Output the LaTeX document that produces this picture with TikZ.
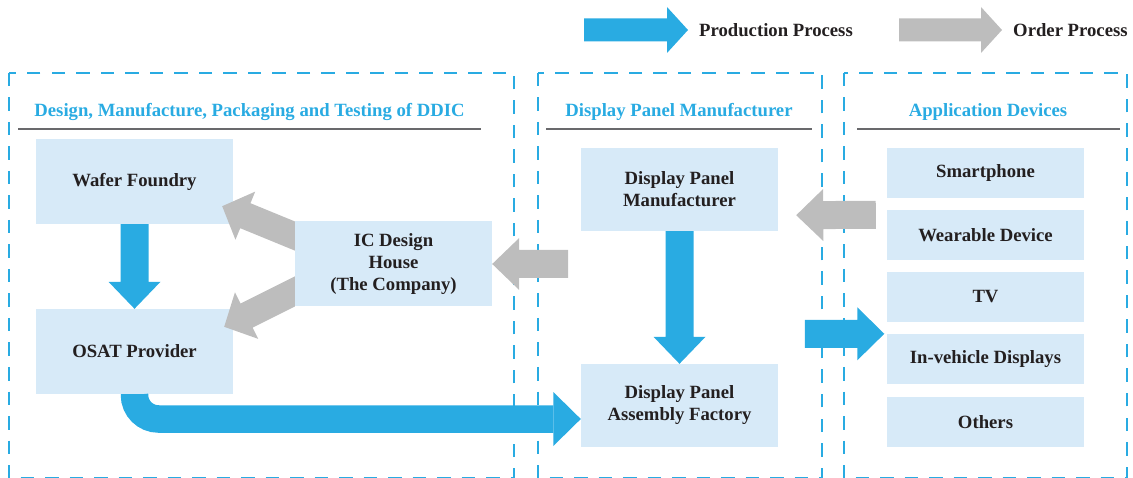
\documentclass[tikz,border=0pt]{standalone}
\usepackage{fontspec}
\setmainfont{Liberation Serif}
\usetikzlibrary{calc}

\definecolor{flowblue}{RGB}{41,171,226}
\definecolor{ordergray}{RGB}{189,189,189}
\definecolor{cellblue}{RGB}{215,234,248}
\definecolor{inktext}{RGB}{35,31,32}
\definecolor{rulegray}{RGB}{105,105,108}

% Block arrow: #1 fill, #2 tail, #3 tip, #4 half shaft width,
% #5 half head width, #6 head length
\newcommand\blockarrow[6]{%
  \coordinate (ba-h) at ($(#3)!#6!(#2)$);
  \fill[#1] ($(#2)!#4!90:(#3)$) -- ($(ba-h)!#4!90:(#3)$) --
            ($(ba-h)!#5!90:(#3)$) -- (#3) --
            ($(ba-h)!#5!-90:(#3)$) -- ($(ba-h)!#4!-90:(#3)$) --
            ($(#2)!#4!-90:(#3)$) -- cycle;}

\tikzset{
  txt/.style={font=\bfseries\fontsize{18.7}{22}\selectfont},
  cell/.style={txt, fill=cellblue, text=inktext, minimum width=197pt,
               inner sep=0pt, align=center},
  heading/.style={txt, text=flowblue, inner sep=0pt, anchor=base},
  legendtxt/.style={txt, text=inktext, inner sep=0pt, anchor=west},
  frame/.style={draw=flowblue, line width=2pt, dash pattern=on 13.5pt off 11pt},
  headrule/.style={draw=rulegray, line width=1.5pt},
}

\begin{document}
\begin{tikzpicture}[x=1pt,y=-1pt]
\useasboundingbox (0,0) rectangle (1133,478);
\coordinate (bottomleft) at (0,478);

% ---------- legend ----------
\coordinate (lp0) at (584,30);
\coordinate (lp1) at (688,30);
\blockarrow{flowblue}{lp0}{lp1}{11.5pt}{23pt}{21pt}
\node[legendtxt] (lptext) at (699,30) {Production Process};
\coordinate (lo0) at (899,30);
\coordinate (lo1) at (1002,30);
\blockarrow{ordergray}{lo0}{lo1}{11.5pt}{23pt}{21pt}
\node[legendtxt] (lotext) at (1013,30) {Order Process};

% ---------- dashed zones ----------
\draw[frame] (9,73) rectangle (514,478);
\draw[frame] (538,73) rectangle (822,478);
\draw[frame] (844,73) rectangle (1127,478);

\node[heading] (h1) at (249.5,116.5) {Design, Manufacture, Packaging and Testing of DDIC};
\draw[headrule] (18,129) -- (481,129);
\node[heading] (h2) at (679,116.5) {Display Panel Manufacturer};
\draw[headrule] (546,129) -- (812,129);
\node[heading] (h3) at (988,116.5) {Application Devices};
\draw[headrule] (857,129) -- (1120,129);

% ---------- boxes ----------
\node[cell, minimum height=85pt] (wafer) at (134.5,181.5) {Wafer Foundry};
\node[cell, minimum height=85pt] (osat) at (134.5,351.5) {OSAT Provider};
\node[cell, minimum height=85pt] (ic) at (393.5,264) {IC Design\\House\\(The Company)};
\node[cell, minimum height=83pt] (dpm) at (679.5,189.5) {Display Panel\\Manufacturer};
\node[cell, minimum height=83pt] (dpa) at (679.5,405.5) {Display Panel\\Assembly Factory};

\node[cell, minimum height=50pt] (smart) at (985.5,173) {Smartphone};
\node[cell, minimum height=50pt] (wear) at (985.5,235) {Wearable Device};
\node[cell, minimum height=50pt] (tv) at (985.5,297) {TV};
\node[cell, minimum height=50pt] (invh) at (985.5,359) {In-vehicle Displays};
\node[cell, minimum height=50pt] (others) at (985.5,422) {Others};

% ---------- production flow ----------
\blockarrow{flowblue}{wafer.south}{osat.north}{14pt}{26pt}{27pt}
\blockarrow{flowblue}{dpm.south}{dpa.north}{14pt}{26pt}{27pt}

\coordinate (cvtip) at ($(dpa.west)+(0,13.5)$);
\coordinate (cvbase) at ($(cvtip)+(-27.5,0)$);
\draw[flowblue, line width=27.5pt, rounded corners=24pt] (osat.south) |- (cvbase);
\fill[flowblue] ($(cvbase)+(0,-27)$) -- (cvtip) -- ($(cvbase)+(0,27)$) -- cycle;

\coordinate (apptail) at ($(invh.north west)+(-82,0)$);
\coordinate (apptip) at ($(invh.north west)+(-2.5,0)$);
\blockarrow{flowblue}{apptail}{apptip}{14pt}{26.5pt}{27pt}

% ---------- order flow ----------
\coordinate (g1tail) at ($(wear.north west)+(-11,5)$);
\coordinate (g1tip) at ($(dpm.south east)+(18,-16)$);
\blockarrow{ordergray}{g1tail}{g1tip}{14pt}{26pt}{27pt}

\coordinate (g2tail) at ($(ic.east)+(76,0)$);
\blockarrow{ordergray}{g2tail}{ic.east}{14pt}{26pt}{27pt}

\coordinate (d1tip) at ($(wafer.south east)+(-11,-18)$);
\coordinate (d1src) at ($(ic.west)+(0,-28)$);
\coordinate (d1tail) at ($(d1tip)!1.3!(d1src)$);
\coordinate (d2tip) at ($(osat.north east)+(-9,18)$);
\coordinate (d2src) at ($(ic.west)+(0,27.5)$);
\coordinate (d2tail) at ($(d2tip)!1.3!(d2src)$);
\begin{scope}
  \clip (0,0) rectangle (ic.west |- bottomleft);
  \blockarrow{ordergray}{d1tail}{d1tip}{13.5pt}{26pt}{25pt}
  \blockarrow{ordergray}{d2tail}{d2tip}{13.5pt}{26pt}{25pt}
\end{scope}
\end{tikzpicture}
\end{document}
